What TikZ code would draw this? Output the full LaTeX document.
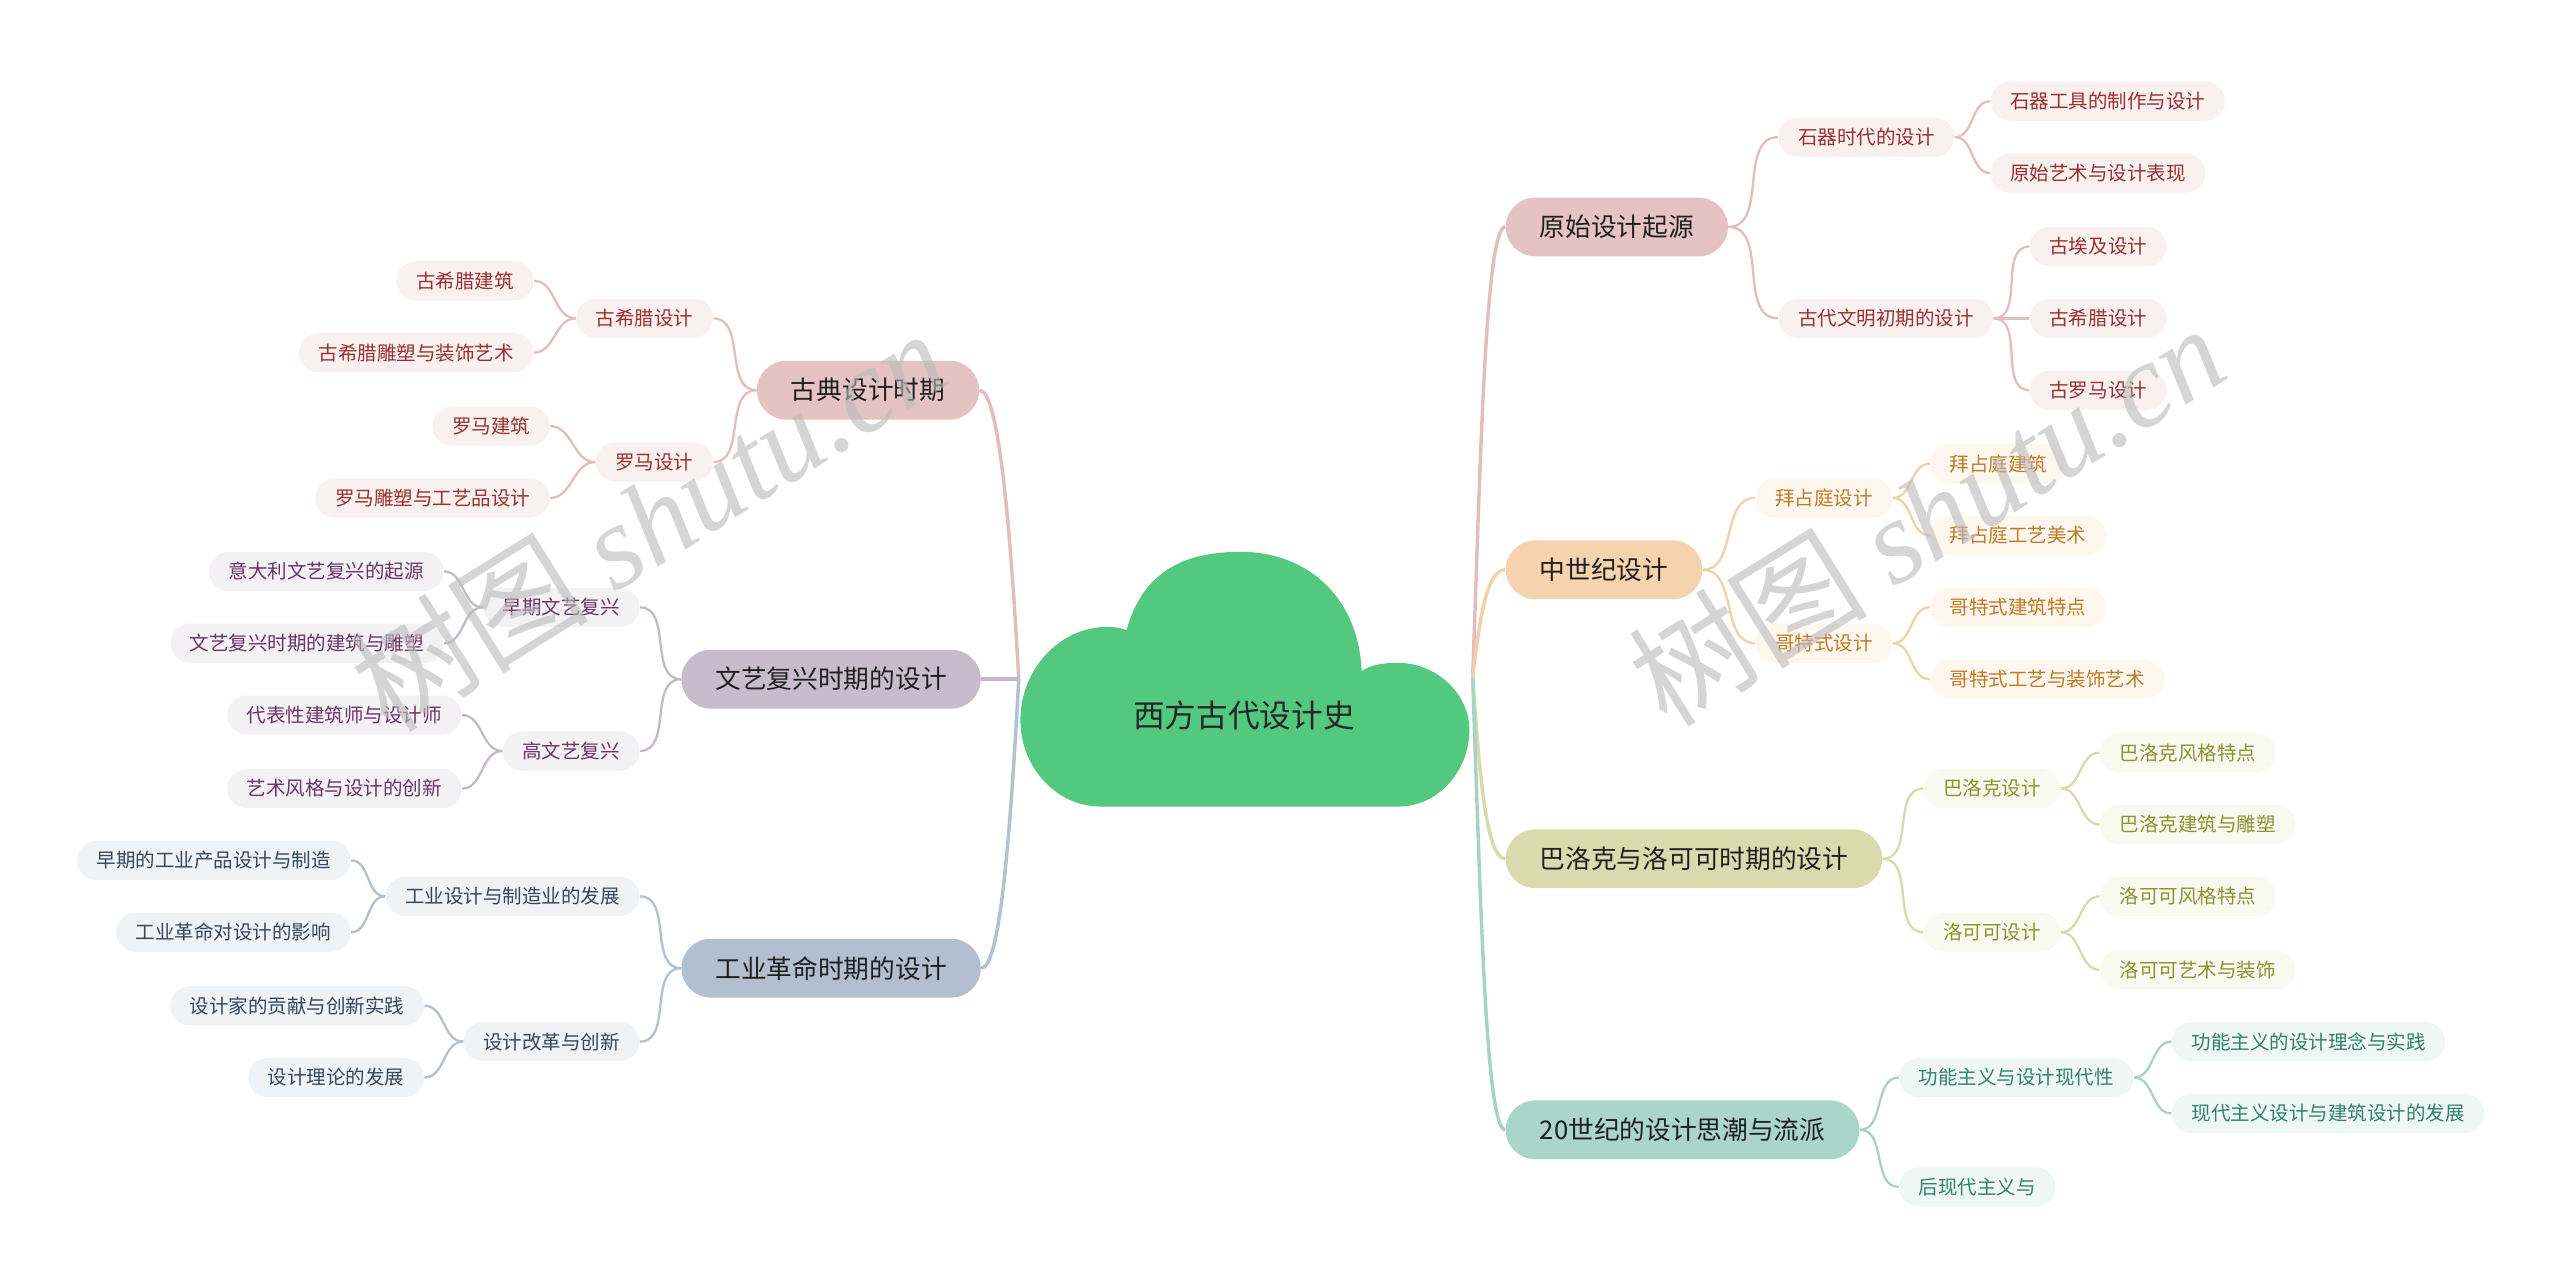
\documentclass[tikz,border=0pt]{standalone}
\usepackage{fontspec}
\setmainfont{Noto Sans CJK SC}
\newfontfamily\wmlatin{Liberation Serif}
\usepackage{xcolor}
\usepackage{tikz}

\definecolor{cloudgreen}{HTML}{52C97F}
\definecolor{pinkfill}{HTML}{E6C3C3}
\definecolor{pinkline}{HTML}{E3BDBD}
\definecolor{pinklite}{HTML}{F9F0F0}
\definecolor{pinktext}{HTML}{9B2F2F}
\definecolor{peachfill}{HTML}{F4D3AE}
\definecolor{peachline}{HTML}{F2D0A8}
\definecolor{peachlite}{HTML}{FEF7EE}
\definecolor{peachtext}{HTML}{C27A27}
\definecolor{olivefill}{HTML}{DADAAF}
\definecolor{oliveline}{HTML}{D8DAAA}
\definecolor{olivelite}{HTML}{F8F9EF}
\definecolor{olivetext}{HTML}{8D9332}
\definecolor{tealfill}{HTML}{AAD6CA}
\definecolor{tealline}{HTML}{A7D3C7}
\definecolor{teallite}{HTML}{EEF7F4}
\definecolor{tealtext}{HTML}{33806D}
\definecolor{plumfill}{HTML}{C8BBCB}
\definecolor{plumline}{HTML}{C5B9C8}
\definecolor{plumlite}{HTML}{F4F1F5}
\definecolor{plumtext}{HTML}{6B3466}
\definecolor{slatefill}{HTML}{B1BFCF}
\definecolor{slateline}{HTML}{B3C0CE}
\definecolor{slatelite}{HTML}{EFF3F6}
\definecolor{slatetext}{HTML}{34475C}

\begin{document}
\begin{tikzpicture}[
  x=0.025cm, y=-0.025cm,
  topic/.style={rectangle,rounded corners=0.45cm,minimum height=0.9cm,inner xsep=0.52cm,inner ysep=0pt,font=\fontsize{11.2pt}{13pt}\selectfont,text=black!88},
  sub/.style={rectangle,rounded corners=0.3cm,minimum height=0.6cm,inner xsep=0.3cm,inner ysep=0pt,font=\fontsize{8.5pt}{10pt}\selectfont},
  major/.style={line width=1.5pt},
  minor/.style={line width=1pt},
  topicpink/.style={topic,fill=pinkfill},
  subpink/.style={sub,fill=pinklite,text=pinktext},
  linepink/.style={minor,draw=pinkline},
  topicpeach/.style={topic,fill=peachfill},
  subpeach/.style={sub,fill=peachlite,text=peachtext},
  linepeach/.style={minor,draw=peachline},
  topicolive/.style={topic,fill=olivefill},
  subolive/.style={sub,fill=olivelite,text=olivetext},
  lineolive/.style={minor,draw=oliveline},
  topicteal/.style={topic,fill=tealfill},
  subteal/.style={sub,fill=teallite,text=tealtext},
  lineteal/.style={minor,draw=tealline},
  topicplum/.style={topic,fill=plumfill},
  subplum/.style={sub,fill=plumlite,text=plumtext},
  lineplum/.style={minor,draw=plumline},
  topicslate/.style={topic,fill=slatefill},
  subslate/.style={sub,fill=slatelite,text=slatetext},
  lineslate/.style={minor,draw=slateline},
  watermark/.style={rotate=32,text=gray!55,opacity=0.6,font=\fontsize{52pt}{60pt}\selectfont}
]
  \useasboundingbox (0,0) rectangle (1568,788);
  \fill[white] (0,0) rectangle (1568,788);

  % root cloud
  \fill[cloudgreen] (674,494) .. controls (647,494) and (625,470) .. (625,441)
    .. controls (625,410) and (649,384) .. (678,384)
    .. controls (684,384) and (688,385) .. (690,386)
    .. controls (700,350) and (725,338) .. (760,338)
    .. controls (800,338) and (832,365) .. (834,411)
    .. controls (840,407) and (848,406) .. (856,406)
    .. controls (880,406) and (900,425) .. (900,447)
    .. controls (900,473) and (880,494) .. (857,494) -- cycle;
  \node[font=\fontsize{13.8pt}{16pt}\selectfont,text=black!85] (root) at (762,438) {西方古代设计史};
  \coordinate (hubR) at (902,415);
  \coordinate (hubL) at (624,416);

  % right side
  \node[topicpink, anchor=west] (r1) at (922,139) {原始设计起源};
  \node[subpink, anchor=west] (r1a) at (1089,84) {石器时代的设计};
  \node[subpink, anchor=west] (r1a1) at (1219,62) {石器工具的制作与设计};
  \node[subpink, anchor=west] (r1a2) at (1219,106) {原始艺术与设计表现};
  \node[subpink, anchor=west] (r1b) at (1089,195) {古代文明初期的设计};
  \node[subpink, anchor=west] (r1b1) at (1243,151) {古埃及设计};
  \node[subpink, anchor=west] (r1b2) at (1243,195) {古希腊设计};
  \node[subpink, anchor=west] (r1b3) at (1243,239) {古罗马设计};

  \node[topicpeach, anchor=west] (r2) at (922,349) {中世纪设计};
  \node[subpeach, anchor=west] (r2a) at (1075,305) {拜占庭设计};
  \node[subpeach, anchor=west] (r2a1) at (1182,284) {拜占庭建筑};
  \node[subpeach, anchor=west] (r2a2) at (1182,328) {拜占庭工艺美术};
  \node[subpeach, anchor=west] (r2b) at (1075,394) {哥特式设计};
  \node[subpeach, anchor=west] (r2b1) at (1182,372) {哥特式建筑特点};
  \node[subpeach, anchor=west] (r2b2) at (1182,416) {哥特式工艺与装饰艺术};

  \node[topicolive, anchor=west] (r3) at (922,526) {巴洛克与洛可可时期的设计};
  \node[subolive, anchor=west] (r3a) at (1178,483) {巴洛克设计};
  \node[subolive, anchor=west] (r3a1) at (1286,461) {巴洛克风格特点};
  \node[subolive, anchor=west] (r3a2) at (1286,505) {巴洛克建筑与雕塑};
  \node[subolive, anchor=west] (r3b) at (1178,571) {洛可可设计};
  \node[subolive, anchor=west] (r3b1) at (1286,549) {洛可可风格特点};
  \node[subolive, anchor=west] (r3b2) at (1286,594) {洛可可艺术与装饰};

  \node[topicteal, anchor=west] (r4) at (922,692) {20世纪的设计思潮与流派};
  \node[subteal, anchor=west] (r4a) at (1163,660) {功能主义与设计现代性};
  \node[subteal, anchor=west] (r4a1) at (1330,638) {功能主义的设计理念与实践};
  \node[subteal, anchor=west] (r4a2) at (1330,682) {现代主义设计与建筑设计的发展};
  \node[subteal, anchor=west] (r4b) at (1163,727) {后现代主义与};

  % left side
  \node[topicpink, anchor=east] (l1) at (600,239) {古典设计时期};
  \node[subpink, anchor=east] (l1a) at (437,195) {古希腊设计};
  \node[subpink, anchor=east] (l1a1) at (327,172) {古希腊建筑};
  \node[subpink, anchor=east] (l1a2) at (327,216) {古希腊雕塑与装饰艺术};
  \node[subpink, anchor=east] (l1b) at (437,283) {罗马设计};
  \node[subpink, anchor=east] (l1b1) at (337,261) {罗马建筑};
  \node[subpink, anchor=east] (l1b2) at (337,305) {罗马雕塑与工艺品设计};

  \node[topicplum, anchor=east] (l2) at (601,416) {文艺复兴时期的设计};
  \node[subplum, anchor=east] (l2a) at (392,372) {早期文艺复兴};
  \node[subplum, anchor=east] (l2a1) at (272,350) {意大利文艺复兴的起源};
  \node[subplum, anchor=east] (l2a2) at (272,394) {文艺复兴时期的建筑与雕塑};
  \node[subplum, anchor=east] (l2b) at (392,460) {高文艺复兴};
  \node[subplum, anchor=east] (l2b1) at (283,438) {代表性建筑师与设计师};
  \node[subplum, anchor=east] (l2b2) at (283,483) {艺术风格与设计的创新};

  \node[topicslate, anchor=east] (l3) at (601,593) {工业革命时期的设计};
  \node[subslate, anchor=east] (l3a) at (392,549) {工业设计与制造业的发展};
  \node[subslate, anchor=east] (l3a1) at (215,527) {早期的工业产品设计与制造};
  \node[subslate, anchor=east] (l3a2) at (215,571) {工业革命对设计的影响};
  \node[subslate, anchor=east] (l3b) at (392,638) {设计改革与创新};
  \node[subslate, anchor=east] (l3b1) at (260,616) {设计家的贡献与创新实践};
  \node[subslate, anchor=east] (l3b2) at (260,660) {设计理论的发展};

  % main branches
  \draw[major,draw=pinkline] (hubR) .. controls +(5,-140) and +(-12,0) .. (r1.west);
  \draw[major,draw=peachline] (hubR) .. controls +(4,-33) and +(-12,0) .. (r2.west);
  \draw[major,draw=oliveline] (hubR) .. controls +(4,56) and +(-12,0) .. (r3.west);
  \draw[major,draw=tealline] (hubR) .. controls +(5,140) and +(-12,0) .. (r4.west);
  \draw[major,draw=pinkline] (hubL) .. controls +(-5,-90) and +(12,0) .. (l1.east);
  \draw[major,draw=plumline] (hubL) -- (l2.east);
  \draw[major,draw=slateline] (hubL) .. controls +(-5,90) and +(12,0) .. (l3.east);

  % sub branches
  \draw[linepink] (r1) to[out=0,in=180] (r1a);
  \draw[linepink] (r1) to[out=0,in=180] (r1b);
  \draw[linepink] (r1a) to[out=0,in=180] (r1a1);
  \draw[linepink] (r1a) to[out=0,in=180] (r1a2);
  \draw[linepink] (r1b) to[out=0,in=180] (r1b1);
  \draw[linepink] (r1b) to[out=0,in=180] (r1b2);
  \draw[linepink] (r1b) to[out=0,in=180] (r1b3);
  \draw[linepeach] (r2) to[out=0,in=180] (r2a);
  \draw[linepeach] (r2) to[out=0,in=180] (r2b);
  \draw[linepeach] (r2a) to[out=0,in=180] (r2a1);
  \draw[linepeach] (r2a) to[out=0,in=180] (r2a2);
  \draw[linepeach] (r2b) to[out=0,in=180] (r2b1);
  \draw[linepeach] (r2b) to[out=0,in=180] (r2b2);
  \draw[lineolive] (r3) to[out=0,in=180] (r3a);
  \draw[lineolive] (r3) to[out=0,in=180] (r3b);
  \draw[lineolive] (r3a) to[out=0,in=180] (r3a1);
  \draw[lineolive] (r3a) to[out=0,in=180] (r3a2);
  \draw[lineolive] (r3b) to[out=0,in=180] (r3b1);
  \draw[lineolive] (r3b) to[out=0,in=180] (r3b2);
  \draw[lineteal] (r4) to[out=0,in=180] (r4a);
  \draw[lineteal] (r4) to[out=0,in=180] (r4b);
  \draw[lineteal] (r4a) to[out=0,in=180] (r4a1);
  \draw[lineteal] (r4a) to[out=0,in=180] (r4a2);

  \draw[linepink] (l1) to[out=180,in=0] (l1a);
  \draw[linepink] (l1) to[out=180,in=0] (l1b);
  \draw[linepink] (l1a) to[out=180,in=0] (l1a1);
  \draw[linepink] (l1a) to[out=180,in=0] (l1a2);
  \draw[linepink] (l1b) to[out=180,in=0] (l1b1);
  \draw[linepink] (l1b) to[out=180,in=0] (l1b2);
  \draw[lineplum] (l2) to[out=180,in=0] (l2a);
  \draw[lineplum] (l2) to[out=180,in=0] (l2b);
  \draw[lineplum] (l2a) to[out=180,in=0] (l2a1);
  \draw[lineplum] (l2a) to[out=180,in=0] (l2a2);
  \draw[lineplum] (l2b) to[out=180,in=0] (l2b1);
  \draw[lineplum] (l2b) to[out=180,in=0] (l2b2);
  \draw[lineslate] (l3) to[out=180,in=0] (l3a);
  \draw[lineslate] (l3) to[out=180,in=0] (l3b);
  \draw[lineslate] (l3a) to[out=180,in=0] (l3a1);
  \draw[lineslate] (l3a) to[out=180,in=0] (l3a2);
  \draw[lineslate] (l3b) to[out=180,in=0] (l3b1);
  \draw[lineslate] (l3b) to[out=180,in=0] (l3b2);

  % watermarks
  \node[watermark] (wm1) at (397,318) {树图 {\wmlatin\itshape shutu.cn}};
  \node[watermark] (wm2) at (1180,315) {树图 {\wmlatin\itshape shutu.cn}};
\end{tikzpicture}
\end{document}
